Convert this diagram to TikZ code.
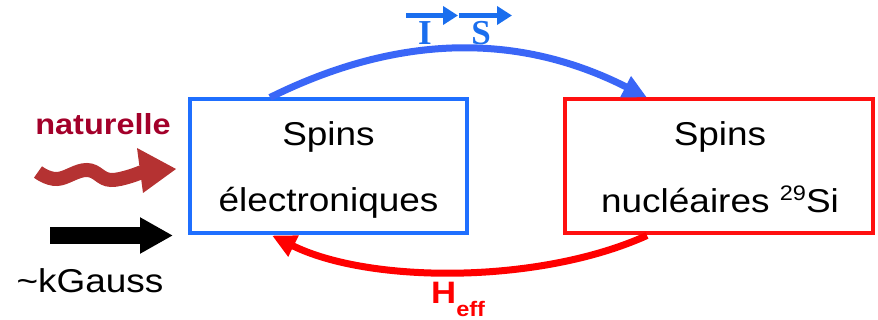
\documentclass[tikz,border=0pt]{standalone}
\usepackage{fontspec}
\setmainfont[FakeStretch=1.12]{Liberation Sans}
\newfontfamily\serifb{Liberation Serif}
\usetikzlibrary{arrows.meta,calc}

\definecolor{boxblue}{HTML}{1F6FFF}
\definecolor{arcblue}{HTML}{3A66F7}
\definecolor{boxred}{HTML}{FF1010}
\definecolor{natred}{HTML}{A3002A}
\definecolor{wavered}{HTML}{B53232}
\definecolor{isblue}{HTML}{1A6EEE}

\begin{document}
\begin{tikzpicture}[x=1pt,y=-1pt,
  box/.style={draw,line width=4pt,minimum height=134pt,inner sep=0pt},
  lbl/.style={font=\fontsize{33}{33}\selectfont,anchor=base,inner sep=0pt},
  vecarrow/.style={isblue,line width=5.5pt,-{Triangle[length=15pt,width=18pt]}},
]
\useasboundingbox (0,0) rectangle (878,320);

% boxes
\node[box,draw=boxblue,minimum width=277pt] (eb) at (328.5,166.5) {};
\node[box,draw=boxred,minimum width=308pt] (nb) at (719,166.5) {};

% box texts
\node[lbl] (e1) at (328.5,146) {Spins};
\node[lbl] (e2) at (328.5,212) {électroniques};
\node[lbl] (n1) at (720,146) {Spins};
\node[lbl] (n2) at (720,213) {nucléaires \raisebox{12pt}{\fontsize{21}{21}\selectfont 29}Si};

% curved arrows
\draw[arcblue,line width=7pt,-{Triangle[length=24pt,width=22pt]}]
  ([xshift=-58.5pt]eb.north) .. controls (400,33) and (520,33) .. ([xshift=-72pt]nb.north);
\draw[red,line width=7pt,-{Triangle[length=24pt,width=22pt]}]
  ([xshift=-72pt]nb.south) .. controls (540,284) and (370,284) .. ([xshift=-56.5pt]eb.south);

% I S labels
\node[font=\serifb\bfseries\fontsize{35}{35}\selectfont,text=isblue,anchor=base,inner sep=0pt] (I) at (425,45) {I};
\node[font=\serifb\bfseries\fontsize{35}{35}\selectfont,text=isblue,anchor=base,inner sep=0pt] (S) at (481,45) {S};
\coordinate (ia) at (406,15.5);
\coordinate (ib) at (458,15.5);
\coordinate (sa) at (459,15.5);
\coordinate (sb) at (512,15.5);
\draw[vecarrow] (ia) -- (ib);
\draw[vecarrow] (sa) -- (sb);

% H_eff
\node[anchor=base west,inner sep=0pt,text=red,font=\bfseries\fontsize{31}{31}\selectfont] (H) at (431,304)
  {H\raisebox{-13pt}{\fontsize{21}{21}\selectfont eff}};

% left side
\node[anchor=base,inner sep=0pt,text=natred,font=\bfseries\fontsize{29}{29}\selectfont] (nat) at (103,135) {naturelle};
\draw[wavered,line width=14pt,line cap=butt]
  plot[smooth,tension=0.7] coordinates {(38,172) (57,179) (87,170) (111,180) (142,172)};
\fill[wavered] (137,148) -- (176,169) -- (143,193) -- cycle;

\coordinate (ka) at (50,235.5);
\coordinate (kb) at (173,235.5);
\draw[black,line width=17pt,-{Triangle[length=33pt,width=34pt]}] (ka) -- (kb);
\node[lbl] (kg) at (90,293) {\textasciitilde kGauss};
\end{tikzpicture}
\end{document}
